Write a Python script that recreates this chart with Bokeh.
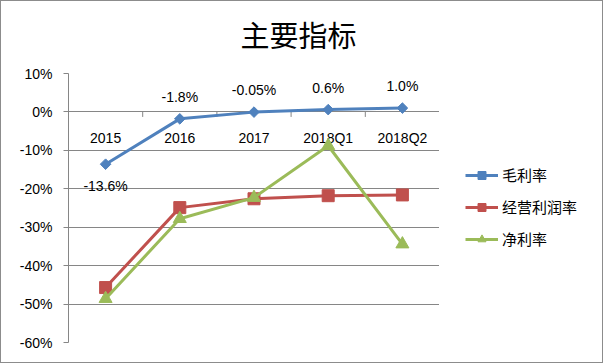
import math
from bokeh.plotting import figure
from bokeh.layouts import row
from bokeh.models import (ColumnDataSource, FactorRange, Range1d, SingleIntervalTicker,
                          PrintfTickFormatter, Legend, LegendItem)
from bokeh.transform import dodge
from bokeh.core.properties import value
from bokeh.embed import file_html
from bokeh.resources import INLINE

categories = ["2015", "2016", "2017", "2018Q1", "2018Q2"]
gross_margin = [-13.6, -1.8, -0.05, 0.6, 1.0]
gross_labels = ["-13.6%", "-1.8%", "-0.05%", "0.6%", "1.0%"]
operating_margin = [-45.7, -24.9, -22.6, -21.8, -21.6]
net_margin = [-48.6, -27.8, -22.3, -8.8, -34.4]
series_names = ["毛利率", "经营利润率", "净利率"]
title_text = "主要指标"

LATIN = "Liberation Sans"
CJK = "Noto Sans CJK SC"
GRID = "#868686"
blue, red, green = "#4F81BD", "#C0504D", "#9BBB59"
TICK_LEN = 1.3  # category tick length below the zero line, in axis units

src = ColumnDataSource(dict(
    cat=categories, gross=gross_margin, op=operating_margin, net=net_margin,
    glab=gross_labels,
    gdy=[22 if v < -10 else -22 for v in gross_margin],
    zero=[0] * len(categories),
    tick_end=[-TICK_LEN] * len(categories),
))

p = figure(width=438, height=361, x_range=FactorRange(*categories, range_padding=0),
           y_range=Range1d(-60, 10), output_backend="svg", toolbar_location=None,
           x_axis_location=None, min_border_left=67, min_border_right=0,
           min_border_top=72, min_border_bottom=20)
p.outline_line_color = None

p.title.text = title_text
p.title.text_font = "Liberation Sans, Noto Sans CJK SC"
p.title.text_font_size = "29px"
p.title.text_font_style = "normal"
p.title.text_color = "#000000"
p.title.align = "left"
p.title.vertical_align = "top"
p.title.offset = 172
p.title.standoff = 37

p.yaxis.ticker = SingleIntervalTicker(interval=10, num_minor_ticks=0)
p.yaxis.formatter = PrintfTickFormatter(format="%d%%")
p.yaxis.axis_line_color = GRID
p.yaxis.major_tick_line_color = GRID
p.yaxis.major_tick_out = 5
p.yaxis.major_tick_in = 0
p.yaxis.minor_tick_line_color = None
p.yaxis.major_label_text_font = LATIN
p.yaxis.major_label_text_font_size = "14px"
p.yaxis.major_label_text_color = "#000000"
p.yaxis.major_label_standoff = 11
p.ygrid.grid_line_color = GRID
p.ygrid.ticker = SingleIntervalTicker(interval=10, num_minor_ticks=0)
p.xgrid.grid_line_color = None

# category boundary ticks and labels at the zero line
p.segment(x0=dodge("cat", 0.5, range=p.x_range), y0="zero",
          x1=dodge("cat", 0.5, range=p.x_range), y1="tick_end",
          source=src, line_color=GRID, line_width=1)
p.text(x="cat", y="zero", text="cat", source=src, text_font=value(LATIN),
       text_font_size="14px", text_align="center", text_baseline="middle",
       y_offset=26, text_color="#000000")

p.line("cat", "gross", source=src, line_color=blue, line_width=3)
p.scatter("cat", "gross", source=src, marker="square", angle=math.pi / 4, size=7.5,
          fill_color=blue, line_color=blue)
p.line("cat", "op", source=src, line_color=red, line_width=3)
p.scatter("cat", "op", source=src, marker="square", size=12, fill_color=red, line_color=red)
p.line("cat", "net", source=src, line_color=green, line_width=3)
p.scatter("cat", "net", source=src, marker="triangle", size=13, fill_color=green, line_color=green)

p.text(x="cat", y="gross", text="glab", source=src, y_offset="gdy", text_font=value(LATIN),
       text_font_size="14px", text_align="center", text_baseline="middle", text_color="#000000")

# legend panel
q = figure(width=163, height=361, x_range=Range1d(0, 1), y_range=Range1d(0, 1),
           output_backend="svg", toolbar_location=None, x_axis_location=None,
           y_axis_location=None, min_border=0)
q.outline_line_color = None
q.xgrid.visible = False
q.ygrid.visible = False
placeholder = ColumnDataSource(dict(x=[float("nan")], y=[float("nan")]))
items = []
for name, color, marker, size, angle in zip(series_names, [blue, red, green],
                                            ["square", "square", "triangle"],
                                            [7.5, 12, 13], [math.pi / 4, 0, 0]):
    lr = q.line("x", "y", source=placeholder, line_color=color, line_width=3)
    mr = q.scatter("x", "y", source=placeholder, marker=marker, size=size, angle=angle,
                   fill_color=color, line_color=color)
    items.append(LegendItem(label=name, renderers=[lr, mr]))

legend = Legend(items=items, location=(26, 93), orientation="vertical")
legend.border_line_color = None
legend.background_fill_alpha = 0
legend.padding = 0
legend.margin = 0
legend.spacing = 11
legend.glyph_width = 33
legend.glyph_height = 20
legend.label_height = 20
legend.label_standoff = 4
legend.label_text_font = CJK
legend.label_text_font_size = "15px"
legend.label_text_color = "#000000"
q.add_layout(legend, "center")

layout = row(p, q, spacing=0)
layout.styles = {"border": "1px solid #8c8c8c"}

open("out.html", "w").write(file_html(layout, INLINE))
